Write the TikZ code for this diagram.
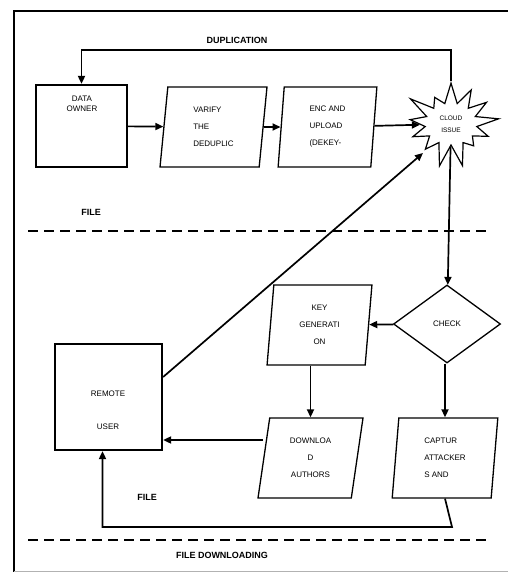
\documentclass[tikz,border=0pt]{standalone}
\usepackage{fontspec}
\setmainfont{Liberation Sans}
\usetikzlibrary{arrows.meta,positioning,shapes.geometric,shapes.symbols}

\tikzset{
  box/.style={draw, line width=2.2pt, inner sep=0pt},
  para/.style={trapezium, draw, line width=1.3pt, trapezium stretches=true,
    minimum height=80pt, inner sep=0pt, align=left, font=\fontsize{8}{17}\selectfont},
  txt/.style={align=center, font=\fontsize{8}{10}\selectfont},
  lbl/.style={font=\fontsize{9}{10}\selectfont\bfseries},
  conn/.style={line width=1.7pt, -{Triangle[length=8pt,width=7pt]}},
  sep/.style={line width=2.4pt, dash pattern=on 10pt off 6pt},
}

\begin{document}
\begin{tikzpicture}[x=1pt, y=-1pt]
      \useasboundingbox (0,0) rectangle (508,572);
      % frame
      \draw[line width=1.6pt] (14,572) -- (14,11) -- (508,11);
      \draw[gray!60, line width=0.8pt] (14,571) -- (508,571);

      % Define nodes
      \node[box, minimum width=91pt, minimum height=82pt] (1) at (81.5,126) {};
      \node[txt] (1t) at (82,104) {DATA\\OWNER};
      \node[para, minimum width=107pt, trapezium left angle=85, trapezium right angle=95] (2) at (213.5,127) {VARIFY\\THE\\DEDUPLIC};
      \node[para, minimum width=99pt, trapezium left angle=86.5, trapezium right angle=93.5] (3) at (327.5,127) {ENC AND\\UPLOAD\\(DEKEY-};
      \node[starburst, draw, line width=1.2pt, starburst points=13, starburst point height=24pt,
        random starburst=60, minimum width=100pt, minimum height=90pt, inner sep=0pt,
        font=\fontsize{6.5}{12}\selectfont, align=center] (4) at (451,124) {CLOUD\\ISSUE};

      \node[diamond, draw, line width=1.3pt, minimum width=107pt, minimum height=78pt, aspect=1.37,
        inner sep=0pt, font=\fontsize{8}{10}\selectfont] (5) at (447,324) {CHECK};
      \node[para, minimum width=105pt, trapezium left angle=85.7, trapezium right angle=94.3,
        align=center] (6) at (319.5,325) {KEY\\GENERATI\\ON};
      \node[box, minimum width=107pt, minimum height=106pt] (7) at (108.5,397) {};
      \node[txt, font=\fontsize{8}{33}\selectfont] (7t) at (108,410) {REMOTE\\USER};
      \node[para, minimum width=105pt, trapezium left angle=81.5, trapezium right angle=98.5,
        align=center] (8) at (310.5,458) {DOWNLOA\\D\\AUTHORS};
      \node[para, minimum width=106pt, trapezium left angle=85.7, trapezium right angle=94.3] (9) at (445,458) {CAPTUR\\ATTACKER\\S AND};

      % labels
      \node[lbl] (l1) at (237,40) {DUPLICATION};
      \node[lbl] (l2) at (91,212) {FILE};
      \node[lbl] (l3) at (147,497) {FILE};
      \node[lbl] (l4) at (222,555) {FILE DOWNLOADING};

      % helper points
      \coordinate (d1) at (240,50);
      \coordinate (c1) at (423,153);
      \coordinate (a1) at (0,377);
      \coordinate (a2) at (0,440);
      \coordinate (c2) at (452,527);

      % Draw edges
      \draw[conn] (1) -- (2);
      \draw[conn] (2) -- (3);
      \draw[conn] (3) -- (4);
      \draw[conn] (4.north) |- (d1) -| (1.north);
      \draw[conn] (4) -- (5);
      \draw[conn] (5) -- (6);
      \draw[conn] (9.north |- 5.south) -- (9.north);
      \draw[conn] (8.north |- 6.south) -- (8.north);
      \draw[conn] (8.west |- a2) -- (7.east |- a2);
      \draw[conn] (7.east |- a1) -- (c1);
      \draw[conn] (9.south) -- (c2) -| ([xshift=-6pt]7.south);

      % separators
      \draw[sep] (28,231) -- (490,231);
      \draw[sep] (28,540) -- (490,540);
    \end{tikzpicture}
\end{document}
